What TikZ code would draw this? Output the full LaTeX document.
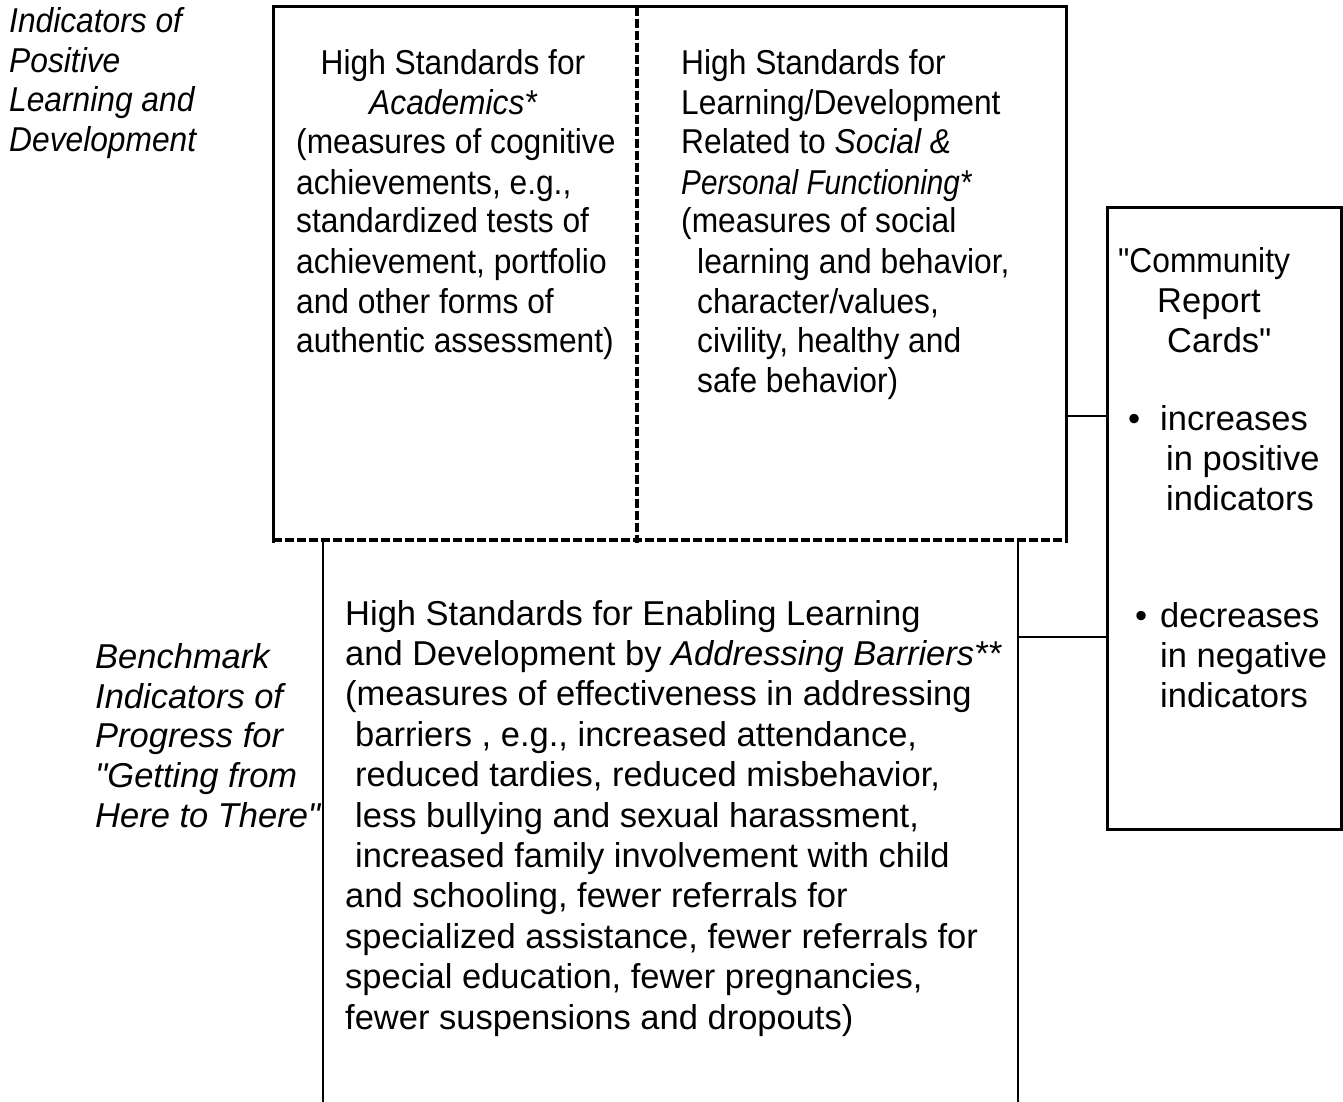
\documentclass[tikz,border=0pt]{standalone}
\usepackage{fontspec}
\setmainfont{Liberation Sans}[Ligatures=TeXOff]
\newfontfamily\widefont{Liberation Sans}[Ligatures=TeXOff]
\newfontfamily\narrowfont{Liberation Sans}[FakeStretch=0.92,Ligatures=TeXOff]
\begin{document}
\begin{tikzpicture}[x=1pt,y=-1pt,
  wtxt/.style={anchor=base west,inner sep=0pt,font=\widefont\fontsize{34.5}{39.7}\selectfont},
  ntxt/.style={anchor=base west,inner sep=0pt,font=\narrowfont\fontsize{34.5}{39.7}\selectfont},
  nctxt/.style={anchor=base,inner sep=0pt,font=\narrowfont\fontsize{34.5}{39.7}\selectfont},
  boxline/.style={line width=3pt},
  dashline/.style={line width=4pt,dash pattern=on 9pt off 3pt},
  sideline/.style={line width=2.5pt},
  conn/.style={line width=2pt}]
\useasboundingbox (0,0) rectangle (1343,1102);

% top box
\coordinate (tbTL) at (273,7);
\coordinate (tbTR) at (1066,7);
\coordinate (tbBL) at (273,540);
\coordinate (tbBR) at (1066,540);
\coordinate (tbTM) at (637,7);
\coordinate (tbBM) at (637,543);
\coordinate (tbR) at (1066,416);
\draw[boxline] (273,5) -- (273,543);
\draw[boxline] (1066,5) -- (1066,543);
\draw[boxline] (tbTL) -- (tbTR);
\draw[dashline] (tbBL) -- (tbBR);
\draw[dashline] (tbTM) -- (tbBM);

% bottom box (open)
\coordinate (bbL) at (323,540);
\coordinate (bbLb) at (323,1102);
\coordinate (bbR) at (1018,540);
\coordinate (bbRb) at (1018,1102);
\coordinate (bbRc) at (1018,637);
\draw[sideline] (bbL) -- (bbLb);
\draw[sideline] (bbR) -- (bbRb);

% community report card box
\node[draw,boxline,minimum width=234pt,minimum height=622pt,inner sep=0pt,anchor=north west] (crc) at (1106,206) {};
\draw[conn] (tbR) -- (tbR -| crc.west);
\draw[conn] (bbRc) -- (bbRc -| crc.west);

% left labels
\node[ntxt] (ind1) at (9,33) {\itshape Indicators of};
\node[ntxt] (ind2) at (9,73) {\itshape Positive};
\node[ntxt] (ind3) at (9,112) {\itshape Learning and};
\node[ntxt] (ind4) at (9,152) {\itshape Development};

\node[wtxt] (bm1) at (95,668) {\itshape Benchmark};
\node[wtxt] (bm2) at (95,708) {\itshape Indicators of};
\node[wtxt] (bm3) at (95,747) {\itshape Progress for};
\node[wtxt] (bm4) at (95,787) {\itshape "Getting from};
\node[wtxt] (bm5) at (95,827) {\itshape Here to There"};

% academics column
\node[nctxt] (ac1) at (453,75) {High Standards for};
\node[nctxt] (ac2) at (453,115) {\itshape Academics*};
\node[ntxt] (ac3) at (296,154) {(measures of cognitive};
\node[ntxt] (ac4) at (296,194) {achievements, e.g.,};
\node[ntxt] (ac5) at (296,233) {standardized tests of};
\node[ntxt] (ac6) at (296,273) {achievement, portfolio};
\node[ntxt] (ac7) at (296,313) {and other forms of};
\node[ntxt] (ac8) at (296,352) {authentic assessment)};

% social column
\node[ntxt] (so1) at (681,75) {High Standards for};
\node[ntxt] (so2) at (681,115) {Learning/Development};
\node[ntxt] (so3) at (681,154) {Related to \textit{Social \&}};
\node[ntxt] (so4) at (681,194) {\scalebox{0.935}[1]{\itshape Personal Functioning*}};
\node[ntxt] (so5) at (681,233) {(measures of social};
\node[ntxt] (so6) at (697,273) {learning and behavior,};
\node[ntxt] (so7) at (697,313) {character/values,};
\node[ntxt] (so8) at (697,352) {civility, healthy and};
\node[ntxt] (so9) at (697,392) {safe behavior)};

% barriers text
\node[wtxt] (ba1) at (345,625) {High Standards for Enabling Learning};
\node[wtxt] (ba2) at (345,665.4) {and Development by \textit{Addressing Barriers**}};
\node[wtxt] (ba3) at (345,705.8) {(measures of effectiveness in addressing};
\node[wtxt] (ba4) at (355,746.2) {barriers , e.g., increased attendance,};
\node[wtxt] (ba5) at (355,786.6) {reduced tardies, reduced misbehavior,};
\node[wtxt] (ba6) at (355,827) {less bullying and sexual harassment,};
\node[wtxt] (ba7) at (355,867.4) {increased family involvement with child};
\node[wtxt] (ba8) at (345,907.8) {and schooling, fewer referrals for};
\node[wtxt] (ba9) at (345,948.2) {specialized assistance, fewer referrals for};
\node[wtxt] (ba10) at (345,988.6) {special education, fewer pregnancies,};
\node[wtxt] (ba11) at (345,1029) {fewer suspensions and dropouts)};

% community report card text
\node[ntxt] (cr1) at (1118,272) {"Community};
\node[wtxt] (cr2) at (1157,312) {Report};
\node[wtxt] (cr3) at (1167,352) {Cards"};
\node[wtxt] (cb1) at (1128,430) {•};
\node[wtxt] (cr4) at (1160,430) {increases};
\node[wtxt] (cr5) at (1166,470) {in positive};
\node[wtxt] (cr6) at (1166,510) {indicators};
\node[wtxt] (cb2) at (1135,627) {•};
\node[wtxt] (cr7) at (1160,627) {decreases};
\node[wtxt] (cr8) at (1160,667) {in negative};
\node[wtxt] (cr9) at (1160,707) {indicators};
\end{tikzpicture}
\end{document}
